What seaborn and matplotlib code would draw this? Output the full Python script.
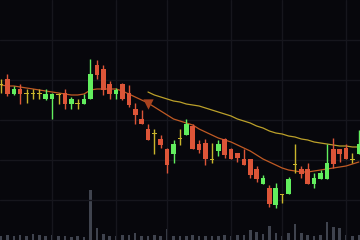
import numpy as np
import pandas as pd
import matplotlib
matplotlib.use("Agg")
import matplotlib.pyplot as plt
import seaborn as sns

# ---- data (price units) ----
opens  = [156,161,146,151,147,147,147,141,141,146,147,136,137,136,141,175,171,156,146,156,
          147,131,121,111,107,101,91,86,102,105,114,96,97,81,89,101,91,87,81,81,
          71,56,52,35,46,46,76,71,71,56,61,61,91,91,92,81,86]
highs  = [161,166,154,156,151,151,151,151,147,147,151,143,141,146,181,180,175,159,152,157,
          155,137,130,116,111,105,92,100,111,121,116,100,101,97,100,102,92,87,91,81,
          74,65,55,57,46,63,96,74,77,67,70,96,102,91,96,87,110]
lows   = [147,144,145,136,137,141,141,140,121,136,131,131,131,136,141,161,145,141,141,140,
          133,116,116,100,86,92,67,77,95,105,91,87,75,77,84,82,81,78,75,62,
          58,56,33,32,37,46,67,62,56,52,61,61,72,78,81,77,86]
closes = [156,146,151,146,147,147,147,146,146,146,136,141,137,141,166,165,150,146,150,141,
          135,125,116,100,107,95,75,96,102,116,91,90,81,81,96,85,81,82,75,65,
          61,62,36,52,46,61,76,66,56,62,67,77,76,86,81,81,96]
volume = [4,5,4,5,4,6,5,4,5,4,4,3,4,3,50,12,6,4,4,5,
          5,7,4,4,5,4,11,4,4,4,5,4,4,4,4,5,4,5,5,10,
          8,6,14,7,4,7,16,7,5,4,5,18,13,12,5,4,5]
ma_fast = [155,154,154,153,152,151,150,149,148,147,146,145,145,146,150,151,151,151,151,149,
           146,143,140,137,133,129,125,121,119,117,115,111,108,105,102,100,98,95,92,89,
           85,81,78,75,72,70,69,68,68,69,70,71,72,73,74,76,78]
ma_slow = [np.nan]*23 + [148,145,143,141,139,138,136,135,134,132,130,128,126,124,121,119,117,
           114,112,109,107,106,104,103,101,100,98,97,96,95,94,94,93,93]
signal_idx = [23]
signal_price = [136]
grid_x = [8, 18, 26, 36, 44, 54]
grid_y = [40, 80, 120, 160, 200]

n = len(opens)
df = pd.DataFrame({"i": np.arange(n), "open": opens, "high": highs, "low": lows,
                   "close": closes, "vol": volume, "ma_fast": ma_fast, "ma_slow": ma_slow})

BG = "#07070c"
RED = "#dc5538"
GREEN = "#62ee5e"
YEL = "#c9b52c"
GRID = "#16161d"

sns.set_style("dark", rc={"axes.facecolor": BG, "figure.facecolor": BG,
                          "grid.color": GRID, "axes.grid": True})

fig = plt.figure(figsize=(3.6, 2.4), dpi=100)
ax = fig.add_axes([0, 0, 1, 1])
ax.set_facecolor(BG)

# volume on twin axis
axv = ax.twinx()
axv.bar(df["i"], df["vol"], width=0.4, color="#3f434e", linewidth=0, zorder=1)
axv.set_ylim(0, 240)
axv.set_yticks([])
axv.grid(False)
for s in axv.spines.values():
    s.set_visible(False)
ax.set_zorder(axv.get_zorder() + 1)
ax.patch.set_visible(False)
fig.patch.set_facecolor(BG)
axv.set_facecolor(BG)

# moving averages
sns.lineplot(data=df, x="i", y="ma_fast", ax=ax, color="#c05a24", linewidth=0.9, zorder=2)
sns.lineplot(data=df, x="i", y="ma_slow", ax=ax, color="#bba02a", linewidth=0.9, zorder=2)

# candles
cols = []
for o, c in zip(opens, closes):
    if c > o:
        cols.append(GREEN)
    elif c < o:
        cols.append(RED)
    else:
        cols.append(YEL)
ax.vlines(df["i"], df["low"], df["high"], colors=cols, linewidth=1.0, zorder=3)
bottoms = np.minimum(df["open"], df["close"])
heights = np.abs(df["close"] - df["open"])
heights = np.where(heights == 0, 1.0, heights)
bottoms = np.where(np.array(opens) == np.array(closes), bottoms - 0.5, bottoms)
ax.bar(df["i"], heights, bottom=bottoms, width=0.72, color=cols, linewidth=0, zorder=4)

# signal marker
ax.scatter(signal_idx, signal_price, marker="v", s=55, color="#a8421f", zorder=5, linewidths=0)

ax.set_xlim(-0.16, 56.18)
ax.set_ylim(0, 240)
ax.set_xticks(grid_x)
ax.set_yticks(grid_y)
ax.set_xticklabels([])
ax.set_yticklabels([])
ax.tick_params(length=0)
ax.grid(True, color=GRID, linewidth=1.0)
ax.set_axisbelow(True)
ax.set_xlabel("")
ax.set_ylabel("")
for s in ax.spines.values():
    s.set_visible(False)

fig.savefig("out.png", dpi=100, facecolor=BG)
